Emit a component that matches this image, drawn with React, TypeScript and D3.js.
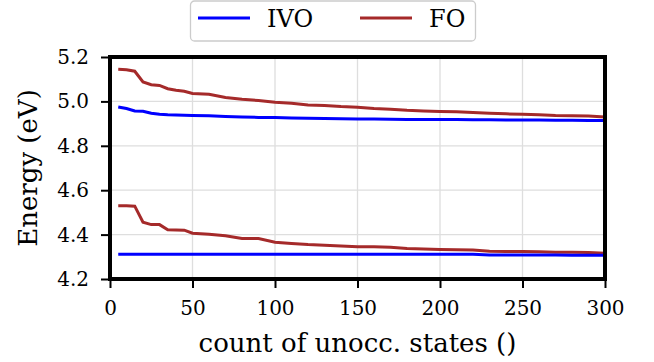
import { useEffect, useRef } from "react";
import * as d3 from "d3";

const counts = [5, 10, 15, 20, 25, 30, 35, 40, 45, 50, 60, 70, 80, 90, 100, 110, 120, 130, 140, 150, 160, 170, 180, 190, 200, 210, 220, 230, 240, 250, 260, 270, 280, 290, 300];

const foUpper = [5.145, 5.143, 5.136, 5.088, 5.075, 5.072, 5.057, 5.05, 5.046, 5.036, 5.032, 5.018, 5.01, 5.004, 4.996, 4.992, 4.984, 4.982, 4.977, 4.974, 4.968, 4.965, 4.96, 4.957, 4.955, 4.953, 4.95, 4.947, 4.944, 4.942, 4.94, 4.936, 4.935, 4.934, 4.93];
const ivoUpper = [4.975, 4.968, 4.957, 4.956, 4.947, 4.942, 4.94, 4.939, 4.938, 4.937, 4.935, 4.932, 4.93, 4.928, 4.927, 4.925, 4.924, 4.923, 4.922, 4.921, 4.921, 4.92, 4.919, 4.919, 4.918, 4.918, 4.917, 4.917, 4.916, 4.916, 4.916, 4.915, 4.915, 4.914, 4.914];
const foLower = [4.53, 4.53, 4.528, 4.456, 4.445, 4.445, 4.422, 4.421, 4.42, 4.406, 4.402, 4.395, 4.382, 4.382, 4.366, 4.36, 4.355, 4.352, 4.349, 4.345, 4.345, 4.343, 4.337, 4.335, 4.333, 4.332, 4.331, 4.325, 4.324, 4.324, 4.323, 4.32, 4.32, 4.319, 4.316];
const ivoLower = [4.311, 4.311, 4.311, 4.311, 4.311, 4.311, 4.311, 4.311, 4.311, 4.311, 4.311, 4.311, 4.311, 4.311, 4.311, 4.311, 4.311, 4.311, 4.311, 4.311, 4.311, 4.311, 4.311, 4.311, 4.311, 4.311, 4.311, 4.308, 4.308, 4.308, 4.308, 4.308, 4.307, 4.307, 4.307];

const xTicks = [0, 50, 100, 150, 200, 250, 300];
const yTicks = [4.2, 4.4, 4.6, 4.8, 5.0, 5.2];

const font = "DejaVu Serif";

export default function App() {
  const svgRef = useRef<SVGSVGElement>(null);

  useEffect(() => {
    const width = 654;
    const height = 362;
    const margin = { top: 57, right: 49, bottom: 83, left: 110 };

    const svg = d3.select(svgRef.current);
    svg.selectAll("*").remove();
    svg.attr("width", width).attr("height", height).attr("font-family", font);

    const x = d3.scaleLinear().domain([0, 300]).range([margin.left, width - margin.right]);
    const y = d3.scaleLinear().domain([4.2, 5.2]).range([height - margin.bottom, margin.top]);

    // Grid
    svg
      .append("g")
      .selectAll("line.vgrid")
      .data(xTicks)
      .enter()
      .append("line")
      .attr("x1", d => x(d))
      .attr("x2", d => x(d))
      .attr("y1", y(4.2))
      .attr("y2", y(5.2))
      .attr("stroke", "#dedede")
      .attr("stroke-width", 1.3);

    svg
      .append("g")
      .selectAll("line.hgrid")
      .data(yTicks)
      .enter()
      .append("line")
      .attr("x1", x(0))
      .attr("x2", x(300))
      .attr("y1", d => y(d))
      .attr("y2", d => y(d))
      .attr("stroke", "#dedede")
      .attr("stroke-width", 1.3);

    // Lines
    const series = [
      { values: foUpper, color: "#a52a2a" },
      { values: foLower, color: "#a52a2a" },
      { values: ivoUpper, color: "#0000ff" },
      { values: ivoLower, color: "#0000ff" }
    ];

    const line = d3
      .line<number>()
      .x((d, i) => x(counts[i]))
      .y(d => y(d));

    svg
      .selectAll("path.series")
      .data(series)
      .enter()
      .append("path")
      .attr("class", "series")
      .attr("d", d => line(d.values))
      .attr("fill", "none")
      .attr("stroke", d => d.color)
      .attr("stroke-width", 3);

    // Axes
    const xAxis = svg
      .append("g")
      .attr("transform", `translate(0, ${y(4.2)})`)
      .call(d3.axisBottom(x).tickValues(xTicks).tickSize(9).tickPadding(13).tickFormat(d3.format("d")));

    const yAxis = svg
      .append("g")
      .attr("transform", `translate(${x(0)}, 0)`)
      .call(d3.axisLeft(y).tickValues(yTicks).tickSize(9).tickPadding(12).tickFormat(d3.format(".1f")));

    [xAxis, yAxis].forEach(g => {
      g.attr("font-family", font).attr("font-size", 20);
      g.select(".domain").remove();
      g.selectAll(".tick line").attr("stroke", "#000").attr("stroke-width", 2);
      g.selectAll(".tick text")
        .attr("fill", "#000")
        .attr("font-family", font)
        .attr("font-size", 20);
    });

    // Frame
    svg
      .append("rect")
      .attr("x", x(0))
      .attr("y", y(5.2))
      .attr("width", x(300) - x(0))
      .attr("height", y(4.2) - y(5.2))
      .attr("fill", "none")
      .attr("stroke", "#000")
      .attr("stroke-width", 4);

    // Axis labels
    svg
      .append("text")
      .attr("x", (x(0) + x(300)) / 2)
      .attr("y", 352)
      .attr("text-anchor", "middle")
      .attr("font-size", 26)
      .text("count of unocc. states ()");

    svg
      .append("text")
      .attr("transform", "rotate(-90)")
      .attr("x", -(y(4.2) + y(5.2)) / 2)
      .attr("y", 37)
      .attr("text-anchor", "middle")
      .attr("font-size", 26)
      .text("Energy (eV)");

    // Legend
    const legend = svg.append("g");
    legend
      .append("rect")
      .attr("x", 190.5)
      .attr("y", 1)
      .attr("width", 285)
      .attr("height", 40)
      .attr("rx", 4)
      .attr("fill", "#fff")
      .attr("stroke", "#cccccc")
      .attr("stroke-width", 1.3);

    const legendItems = [
      { label: "IVO", color: "#0000ff", x0: 198 },
      { label: "FO", color: "#a52a2a", x0: 360 }
    ];

    legendItems.forEach(item => {
      legend
        .append("line")
        .attr("x1", item.x0)
        .attr("x2", item.x0 + 52)
        .attr("y1", 18)
        .attr("y2", 18)
        .attr("stroke", item.color)
        .attr("stroke-width", 3);
      legend
        .append("text")
        .attr("x", item.x0 + 69)
        .attr("y", 27)
        .attr("font-size", 24)
        .text(item.label);
    });
  }, []);

  return (
    <div style={{ position: "absolute", left: 0, top: 0 }}>
      <svg ref={svgRef}></svg>
    </div>
  );
}
